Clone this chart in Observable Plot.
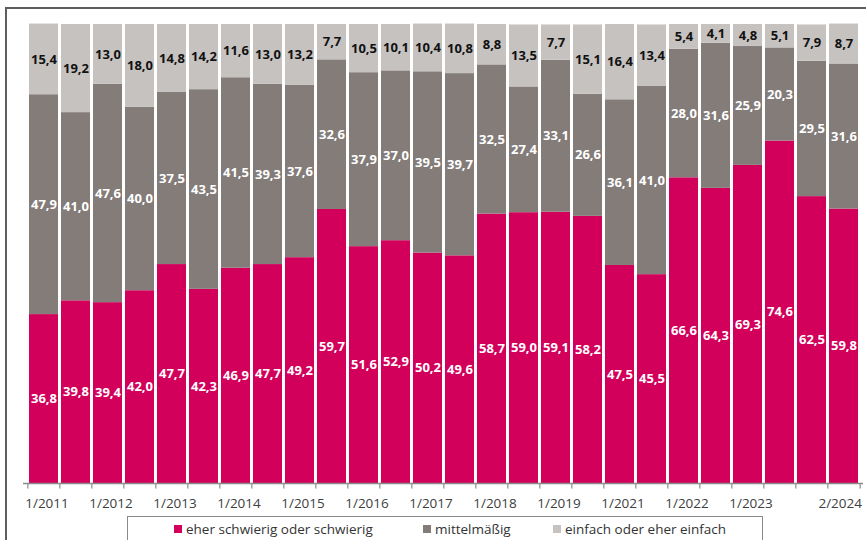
<!DOCTYPE html>
<html>
<head>
<meta charset="utf-8">
<script src="https://cdn.jsdelivr.net/npm/d3@7"></script>
<script src="https://cdn.jsdelivr.net/npm/@observablehq/plot@0.6"></script>
<style>
  html, body { margin: 0; padding: 0; background: #fff; }
  #wrap { position: relative; width: 866px; height: 540px; overflow: hidden; font-family: "Open Sans", sans-serif; }
  #frame { position: absolute; left: 5px; top: 7px; width: 870px; height: 600px; border-top: 2px solid #5e5e5e; border-left: 2px solid #5e5e5e; box-sizing: border-box; }
  #chart { position: absolute; left: 0; top: 0; }
  #legend { position: absolute; left: 127px; top: 516px; width: 636px; height: 40px; border: 1.5px solid #8a8a8a; box-sizing: border-box; background: #fff; font-size: 13.5px; color: #333; }
  .item { position: absolute; top: 3px; white-space: nowrap; line-height: 18px; }
  .sw { display: inline-block; width: 8px; height: 8px; margin-right: 4px; vertical-align: 1px; }
</style>
</head>
<body>
<div id="wrap">
  <div id="frame"></div>
  <div id="chart"></div>
  <div id="legend"></div>
</div>
<script>
const periods = ["1/2011","2/2011","1/2012","2/2012","1/2013","2/2013","1/2014","2/2014","1/2015","2/2015",
  "1/2016","2/2016","1/2017","2/2017","1/2018","2/2018","1/2019","2/2019","1/2021","2/2021",
  "1/2022","2/2022","1/2023","2/2023","1/2024","2/2024"];
const tickLabels = ["1/2011","1/2012","1/2013","1/2014","1/2015","1/2016","1/2017","1/2018","1/2019","1/2021","1/2022","1/2023"];
const lastTickLabel = "2/2024";
const categories = ["eher schwierig oder schwierig", "mittelmäßig", "einfach oder eher einfach"];
const colors = ["#d2005a", "#837c79", "#c6c2c0"];
const schwierig = [36.8,39.8,39.4,42.0,47.7,42.3,46.9,47.7,49.2,59.7,51.6,52.9,50.2,49.6,58.7,59.0,59.1,58.2,47.5,45.5,66.6,64.3,69.3,74.6,62.5,59.8];
const mittel = [47.9,41.0,47.6,40.0,37.5,43.5,41.5,39.3,37.6,32.6,37.9,37.0,39.5,39.7,32.5,27.4,33.1,26.6,36.1,41.0,28.0,31.6,25.9,20.3,29.5,31.6];
const einfach = [15.4,19.2,13.0,18.0,14.8,14.2,11.6,13.0,13.2,7.7,10.5,10.1,10.4,10.8,8.8,13.5,7.7,15.1,16.4,13.4,5.4,4.1,4.8,5.1,7.9,8.7];

const series = [schwierig, mittel, einfach];
const rows = [];
periods.forEach((p, i) => series.forEach((s, k) => rows.push({period: p, cat: categories[k], value: s[i]})));

const fmt = v => v.toFixed(1).replace(".", ",");
const W = 866, H = 540, mL = 23, mR = 3;
const step = (W - mL - mR) / periods.length;

const labelOpts = (text, fill) => Plot.stackY({
  x: "period", y: "value", z: "cat", order: categories, text,
  fill, fontSize: 13, fontWeight: "bold"
});

const chart = Plot.plot({
  width: W, height: H,
  marginTop: 24, marginBottom: 57, marginLeft: mL, marginRight: mR,
  style: {fontFamily: "Open Sans, sans-serif", background: "transparent", overflow: "visible"},
  x: {domain: periods, paddingInner: 0.1, paddingOuter: 0.05, axis: null},
  y: {domain: [0, 100], axis: null},
  color: {domain: categories, range: colors},
  marks: [
    Plot.barY(rows, Plot.stackY({x: "period", y: "value", z: "cat", order: categories, fill: "cat"})),
    Plot.text(rows, labelOpts(d => d.cat === categories[2] ? "" : fmt(d.value), "white")),
    Plot.text(rows, labelOpts(d => d.cat === categories[2] ? fmt(d.value) : "", "#111")),
    Plot.ruleY([0], {stroke: "#8a8a8a", strokeWidth: 1.5}),
    Plot.ruleX(periods, {x: d => d, dx: -step / 2, y1: 0, y2: -1.2, stroke: "#8a8a8a", strokeWidth: 1.2}),
    Plot.ruleX([periods[periods.length - 1]], {x: d => d, dx: step / 2, y1: 0, y2: -1.2, stroke: "#8a8a8a", strokeWidth: 1.2}),
    Plot.text(periods.filter(p => tickLabels.includes(p)), {x: d => d, y: 0, dy: 20, dx: 3, text: d => d, fill: "#404040", fontSize: 13.5}),
    Plot.text([lastTickLabel], {x: d => d, y: 0, dy: 20, dx: 18, textAnchor: "end", text: d => d, fill: "#404040", fontSize: 13.5})
  ]
});
document.getElementById("chart").appendChild(chart);

// legend
const legend = document.getElementById("legend");
const legendX = [46, 295, 425];
categories.forEach((c, k) => {
  const it = document.createElement("div");
  it.className = "item";
  it.style.left = legendX[k] + "px";
  const sw = document.createElement("span");
  sw.className = "sw";
  sw.style.background = colors[k];
  it.appendChild(sw);
  it.appendChild(document.createTextNode(c));
  legend.appendChild(it);
});
</script>
</body>
</html>
